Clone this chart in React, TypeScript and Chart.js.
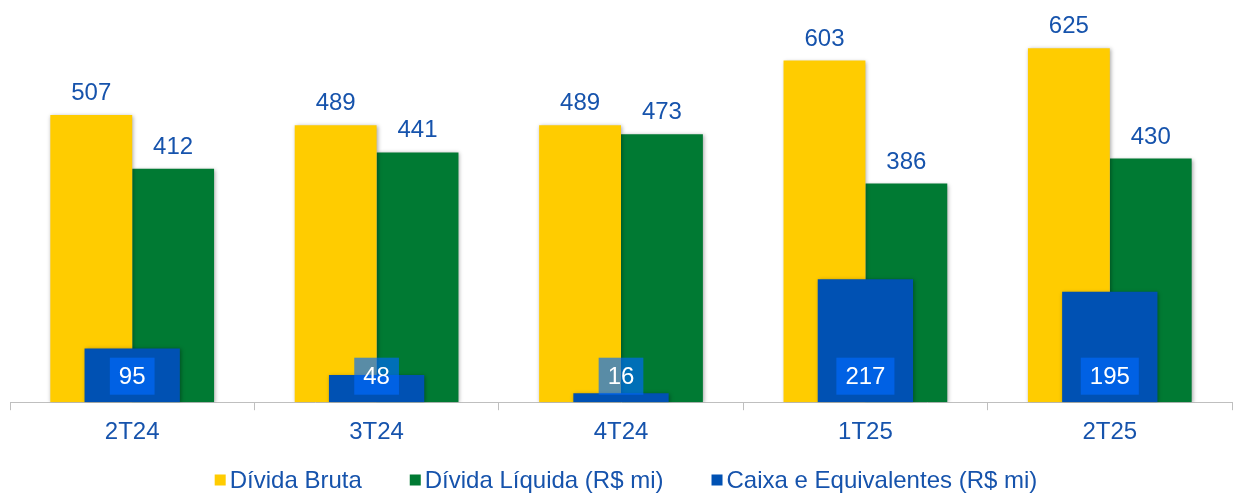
import React, { useEffect, useRef } from "react";
import { Chart, registerables } from "chart.js";

Chart.register(...registerables);

const categories = ["2T24", "3T24", "4T24", "1T25", "2T25"];
const dividaBruta = [507, 489, 489, 603, 625];
const dividaLiquida = [412, 441, 473, 386, 430];
const caixa = [95, 48, 16, 217, 195];
const seriesNames = ["Dívida Bruta", "Dívida Líquida (R$ mi)", "Caixa e Equivalentes (R$ mi)"];

const YELLOW = "#FFCC00";
const GREEN = "#007A33";
const BLUE = "#0051B3";
const TEXT = "#1653AC";
const FONT = "Arial, 'Liberation Sans', sans-serif";
const FS = 24;

const labelPlugin = {
  id: "customLabels",
  beforeDatasetsDraw(chart: any) {
    const ctx = chart.ctx;
    ctx.save();
    ctx.shadowColor = "rgba(0,0,0,0.35)";
    ctx.shadowBlur = 4;
    ctx.shadowOffsetX = 1;
    ctx.shadowOffsetY = 1;
  },
  afterDatasetsDraw(chart: any) {
    const ctx = chart.ctx;
    ctx.restore();
    ctx.save();
    ctx.font = `${FS}px ${FONT}`;
    ctx.textAlign = "center";
    [0, 1].forEach((di) => {
      const meta = chart.getDatasetMeta(di);
      meta.data.forEach((el: any, i: number) => {
        ctx.fillStyle = TEXT;
        ctx.textBaseline = "alphabetic";
        ctx.fillText(String(chart.data.datasets[di].data[i]), el.x, el.y - 15);
      });
    });
    const meta = chart.getDatasetMeta(2);
    const bottom = chart.chartArea.bottom;
    meta.data.forEach((el: any, i: number) => {
      const t = String(chart.data.datasets[2].data[i]);
      const w = ctx.measureText(t).width + 18;
      const h = 37;
      const cy = bottom - 26;
      ctx.fillStyle = "rgba(0,106,255,0.65)";
      ctx.fillRect(el.x - w / 2, cy - h / 2, w, h);
      ctx.fillStyle = "#FFFFFF";
      ctx.textBaseline = "middle";
      ctx.fillText(t, el.x, cy + 1);
    });
    ctx.restore();
  },
  afterDraw(chart: any) {
    const ctx = chart.ctx;
    ctx.save();
    ctx.font = `${FS}px ${FONT}`;
    ctx.textBaseline = "middle";
    ctx.textAlign = "left";
    const colors = [YELLOW, GREEN, BLUE];
    const box = 11;
    const gapBT = 4;
    const gapItems = 48;
    const widths = seriesNames.map((s) => box + gapBT + ctx.measureText(s).width);
    const total = widths.reduce((a, b) => a + b, 0) + gapItems * (widths.length - 1);
    let x = 626 - total / 2;
    const cy = 480;
    seriesNames.forEach((s, i) => {
      ctx.fillStyle = colors[i];
      ctx.fillRect(x, cy - box / 2, box, box);
      ctx.fillStyle = TEXT;
      ctx.fillText(s, x + box + gapBT, cy + 1);
      x += widths[i] + gapItems;
    });
    ctx.restore();
  },
};

export default function App() {
  const ref = useRef<HTMLCanvasElement | null>(null);
  useEffect(() => {
    document.body.style.margin = "0";
    const chart = new Chart(ref.current as HTMLCanvasElement, {
      type: "bar",
      data: {
        labels: categories,
        datasets: [
          {
            label: seriesNames[0],
            data: dividaBruta,
            backgroundColor: YELLOW,
            order: 2,
            categoryPercentage: 0.67,
            barPercentage: 1,
          },
          {
            label: seriesNames[1],
            data: dividaLiquida,
            backgroundColor: GREEN,
            order: 3,
            categoryPercentage: 0.67,
            barPercentage: 1,
          },
          {
            label: seriesNames[2],
            data: caixa,
            backgroundColor: BLUE,
            order: 1,
            grouped: false,
            categoryPercentage: 1,
            barPercentage: 0.39,
          } as any,
        ],
      },
      options: {
        animation: false,
        responsive: true,
        maintainAspectRatio: false,
        layout: { padding: { left: 10, right: 3, top: 0, bottom: 38 } },
        plugins: {
          legend: { display: false },
          tooltip: { enabled: false },
        },
        scales: {
          x: {
            grid: {
              display: true,
              offset: true,
              drawOnChartArea: false,
              drawTicks: true,
              tickLength: 8,
              color: "#BFBFBF",
            },
            border: { color: "#BFBFBF" },
            ticks: { color: TEXT, font: { size: FS, family: FONT }, padding: 8 },
          },
          y: { display: false, min: 0, max: 710 },
        },
      },
      plugins: [labelPlugin],
    });
    return () => chart.destroy();
  }, []);
  return (
    <div style={{ position: "fixed", left: 0, top: 0, width: 1235, height: 493, background: "#fff" }}>
      <canvas ref={ref} />
    </div>
  );
}
